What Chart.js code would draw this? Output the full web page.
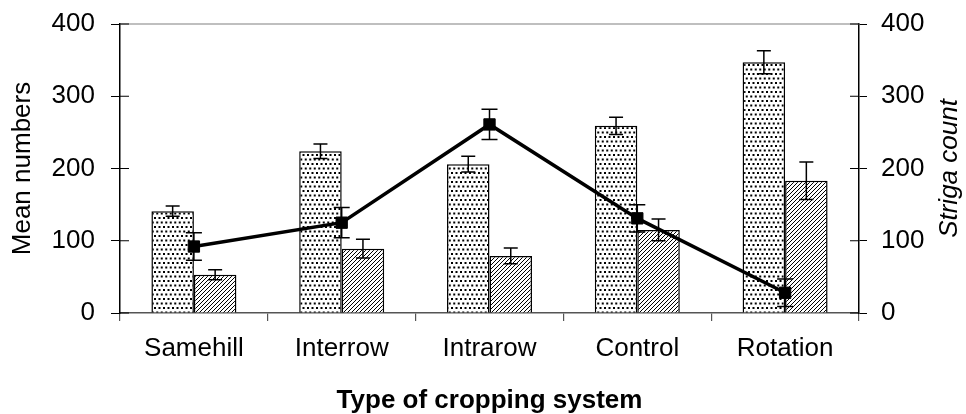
<!DOCTYPE html>
<html>
<head>
<meta charset="utf-8">
<script src="https://cdn.jsdelivr.net/npm/chart.js@4/dist/chart.umd.min.js"></script>
<style>
  body { margin: 0; background: #fff; }
  #wrap { width: 966px; height: 414px; }
</style>
</head>
<body>
<div id="wrap"><canvas id="myChart" width="966" height="414"></canvas></div>
<script>
'use strict';

// values
const systems = ['Samehill', 'Interrow', 'Intrarow', 'Control', 'Rotation'];
const dottedVals = [141, 224, 206, 259, 347];
const dottedErr = [7, 10, 11, 12, 16];
const hatchVals = [53, 89, 79, 115, 183];
const hatchErr = [7, 13, 11, 15, 26];
const strigaVals = [92, 125, 261, 131, 28];
const strigaErr = [19, 21, 21, 19, 19];
const axisTicks = [0, 100, 200, 300, 400];

const fontName = "'Liberation Sans', Arial, sans-serif";

function makeDots(){
  let c = document.createElement('canvas');
  c.width = 9; c.height = 9;
  let g = c.getContext('2d');
  g.fillStyle = '#fff';
  g.fillRect(0, 0, 9, 9);
  g.fillStyle = '#000';
  g.fillRect(1, 1, 2, 2);
  g.fillRect(5.5, 1, 2, 2);
  g.fillRect(3.25, 5.5, 2, 2);
  g.fillRect(7.75, 5.5, 2, 2);
  g.fillRect(-1.25, 5.5, 2, 2);
  return g.createPattern(c, 'repeat');
}

function makeHatch(){
  let c = document.createElement('canvas');
  c.width = 4; c.height = 4;
  let g = c.getContext('2d');
  g.fillStyle = '#fff';
  g.fillRect(0, 0, 4, 4);
  g.strokeStyle = '#000';
  g.lineWidth = 1;
  g.beginPath();
  g.moveTo(-1, 5); g.lineTo(5, -1);
  g.moveTo(-1, 1); g.lineTo(1, -1);
  g.moveTo(3, 5); g.lineTo(5, 3);
  g.stroke();
  return g.createPattern(c, 'repeat');
}

const errLists = [dottedErr, hatchErr, strigaErr];

const errorBars = {
  id: 'errorBars',
  afterDatasetDraw(chart, args){
    let ctx = chart.ctx;
    let meta = args.meta;
    let ds = chart.data.datasets[args.index];
    let errs = errLists[args.index];
    let scale = chart.scales[ds.yAxisID];
    let cap = ds.type === 'line' ? 8 : 7;
    ctx.save();
    ctx.strokeStyle = '#000';
    ctx.lineWidth = 1.5;
    for(let i = 0; i < meta.data.length; i++){
      let x = meta.data[i].x;
      let yTop = scale.getPixelForValue(ds.data[i] + errs[i]);
      let yBot = scale.getPixelForValue(ds.data[i] - errs[i]);
      ctx.beginPath();
      ctx.moveTo(x, yTop); ctx.lineTo(x, yBot);
      ctx.moveTo(x - cap, yTop); ctx.lineTo(x + cap, yTop);
      ctx.moveTo(x - cap, yBot); ctx.lineTo(x + cap, yBot);
      ctx.stroke();
    }
    ctx.restore();
  },
  afterDraw(chart){
    let ctx = chart.ctx;
    let area = chart.chartArea;
    ctx.save();
    // top frame line
    ctx.strokeStyle = '#808080';
    ctx.lineWidth = 1.2;
    ctx.beginPath();
    ctx.moveTo(area.left, area.top); ctx.lineTo(area.right, area.top);
    ctx.stroke();
    // inner halves of the y tick marks
    ctx.strokeStyle = '#000';
    ctx.lineWidth = 1;
    for(let i = 0; i < axisTicks.length; i++){
      let y = chart.scales.y.getPixelForValue(axisTicks[i]);
      ctx.beginPath();
      ctx.moveTo(area.left, y); ctx.lineTo(area.left + 9, y);
      ctx.moveTo(area.right, y); ctx.lineTo(area.right - 9, y);
      ctx.stroke();
    }
    // right axis title, reading upwards like the left one
    ctx.fillStyle = '#000';
    ctx.font = 'italic 26px ' + fontName;
    ctx.textAlign = 'center';
    ctx.textBaseline = 'middle';
    ctx.translate(chart.width - 16, (area.top + area.bottom) / 2);
    ctx.rotate(-Math.PI / 2);
    ctx.fillText('Striga count', 0, 0);
    ctx.restore();
  }
};

let ctx = document.getElementById('myChart').getContext('2d');
let myChart = new Chart(ctx, {
  type: 'bar',
  data: {
    labels: systems,
    datasets: [{
      label: 'Dotted bars',
      data: dottedVals,
      yAxisID: 'y',
      backgroundColor: makeDots(),
      borderColor: '#000',
      borderWidth: 1.5,
      order: 1
    },{
      label: 'Hatched bars',
      data: hatchVals,
      yAxisID: 'y',
      backgroundColor: makeHatch(),
      borderColor: '#000',
      borderWidth: 1.5,
      order: 1
    },{
      type: 'line',
      label: 'Striga count',
      data: strigaVals,
      yAxisID: 'y1',
      borderColor: '#000',
      borderWidth: 3.5,
      pointStyle: 'rect',
      pointRadius: 8,
      pointBackgroundColor: '#000',
      pointBorderColor: '#000',
      pointBorderWidth: 1,
      tension: 0,
      order: 0
    }]
  },
  options: {
    responsive: false,
    animation: false,
    categoryPercentage: 0.575,
    barPercentage: 1,
    layout: { padding: { top: 24, left: 0, right: 0, bottom: 0 } },
    plugins: {
      legend: { display: false },
      tooltip: { enabled: false }
    },
    scales: {
      x: {
        offset: true,
        grid: { offset: true, drawOnChartArea: false, drawTicks: true, tickLength: 8, color: '#555', lineWidth: 1.2 },
        border: { color: '#555', width: 1.5 },
        ticks: { color: '#000', padding: 12, font: { family: fontName, size: 26 } },
        title: { display: true, text: 'Type of cropping system', color: '#000',
          padding: { top: 0, bottom: 0 },
          font: { family: fontName, size: 26, weight: 'bold', lineHeight: 1 } },
        afterFit(s){ s.height = 101; s.paddingLeft = 0; s.paddingRight = 0; }
      },
      y: {
        position: 'left',
        min: 0, max: 400,
        afterBuildTicks(s){ s.ticks = axisTicks.map(v => ({ value: v })); },
        grid: { drawOnChartArea: false, tickLength: 9, color: '#000', lineWidth: 1 },
        border: { color: '#000', width: 1.5 },
        ticks: { color: '#000', padding: 16, font: { family: fontName, size: 26 } },
        title: { display: true, text: 'Mean numbers', color: '#000',
          padding: { top: 10, bottom: 0 },
          font: { family: fontName, size: 26, lineHeight: 1 } },
        afterFit(s){ s.width = 120; s.paddingTop = 0; s.paddingBottom = 0; }
      },
      y1: {
        position: 'right',
        min: 0, max: 400,
        afterBuildTicks(s){ s.ticks = axisTicks.map(v => ({ value: v })); },
        grid: { drawOnChartArea: false, tickLength: 8, color: '#000', lineWidth: 1 },
        border: { color: '#000', width: 1.5 },
        ticks: { color: '#000', padding: 14, font: { family: fontName, size: 26 } },
        afterFit(s){ s.width = 107; s.paddingTop = 0; s.paddingBottom = 0; }
      }
    }
  },
  plugins: [errorBars]
});
</script>
</body>
</html>
